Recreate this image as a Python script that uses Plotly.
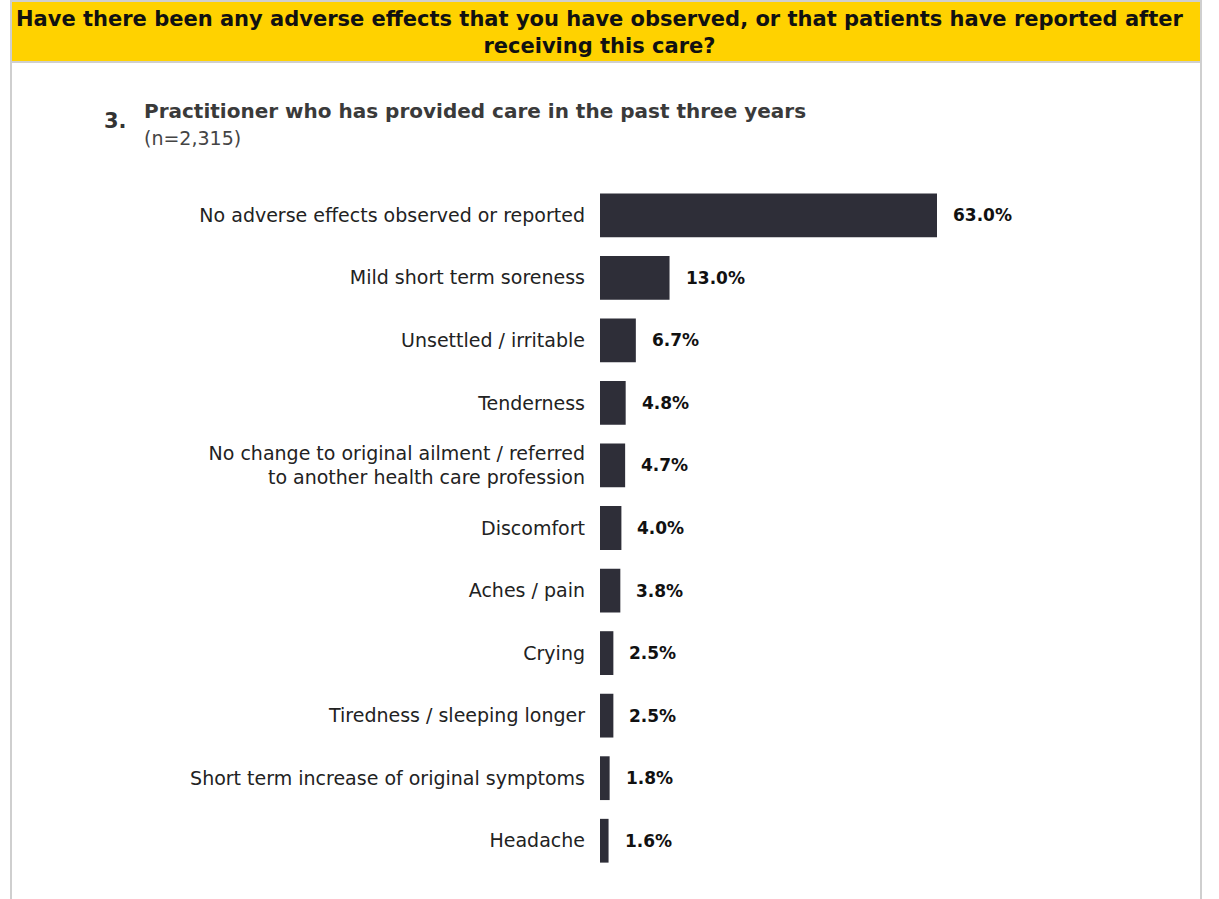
import plotly.graph_objects as go

# survey answers, top to bottom
categories = [
    "No adverse effects observed or reported",
    "Mild short term soreness",
    "Unsettled / irritable",
    "Tenderness",
    "No change to original ailment / referred<br>to another health care profession",
    "Discomfort",
    "Aches / pain",
    "Crying",
    "Tiredness / sleeping longer",
    "Short term increase of original symptoms",
    "Headache",
]
shares = [63.0, 13.0, 6.7, 4.8, 4.7, 4.0, 3.8, 2.5, 2.5, 1.8, 1.6]

question = "Have there been any adverse effects that you have observed, or that patients have reported after<br>receiving this care?"
panel_no = "3."
panel_title = "Practitioner who has provided care in the past three years"
panel_n = "(n=2,315)"

W, H = 1219, 899
L, R, T, B = 600, 19, 184, 27   # plot area margins in px
pw, ph = W - L - R, H - T - B

def px(x):
    return (x - L) / pw

def py(y):
    return (H - B - y) / ph

FONT = "DejaVu Sans"
BAR = "#2E2E38"

fig = go.Figure()
fig.add_trace(go.Bar(
    x=shares, y=categories, orientation="h",
    marker=dict(color=BAR, line=dict(width=0)),
    hoverinfo="x+y",
))

# value labels
for c, v in zip(categories, shares):
    fig.add_annotation(x=v, y=c, text="<b>%.1f%%</b>" % v, showarrow=False,
                       xanchor="left", xshift=14,
                       font=dict(family=FONT, size=17, color="#111111"))

# yellow banner and frame
shapes = [
    dict(type="rect", xref="paper", yref="paper", x0=px(11), x1=px(1201), y0=py(0), y1=py(62),
         fillcolor="#FFD200", line=dict(width=0), layer="below"),
    dict(type="line", xref="paper", yref="paper", x0=px(11), x1=px(1201), y0=py(62), y1=py(62),
         line=dict(color="#CFCFCF", width=2)),
    dict(type="line", xref="paper", yref="paper", x0=px(11), x1=px(1201), y0=py(1), y1=py(1),
         line=dict(color="#CFCFCF", width=2)),
    dict(type="line", xref="paper", yref="paper", x0=px(11), x1=px(11), y0=py(0), y1=py(899),
         line=dict(color="#CFCFCF", width=2)),
    dict(type="line", xref="paper", yref="paper", x0=px(1201), x1=px(1201), y0=py(0), y1=py(899),
         line=dict(color="#CFCFCF", width=2)),
]

annotations = [
    dict(text="<b>" + question + "</b>", x=px(600), y=py(33), xref="paper", yref="paper",
         showarrow=False, xanchor="center", yanchor="middle", align="center",
         font=dict(family=FONT, size=21, color="#111111")),
    dict(text="<b>" + panel_no + "</b>", x=px(102), y=py(121), xref="paper", yref="paper",
         showarrow=False, xanchor="left", yanchor="middle",
         font=dict(family=FONT, size=21, color="#333333")),
    dict(text="<b>" + panel_title + "</b>", x=px(142), y=py(111), xref="paper", yref="paper",
         showarrow=False, xanchor="left", yanchor="middle",
         font=dict(family=FONT, size=20, color="#3A3A3A")),
    dict(text=panel_n, x=px(142), y=py(138), xref="paper", yref="paper",
         showarrow=False, xanchor="left", yanchor="middle",
         font=dict(family=FONT, size=19, color="#444444")),
]
for a in annotations:
    fig.add_annotation(**a)

fig.update_layout(
    width=W, height=H,
    margin=dict(l=L, r=R, t=T, b=B),
    paper_bgcolor="white", plot_bgcolor="white",
    showlegend=False, bargap=0.3,
    shapes=shapes,
    font=dict(family=FONT, size=19, color="#222222"),
)
fig.update_xaxes(range=[0, pw / (337 / 63.0)], visible=False, fixedrange=True)
fig.update_yaxes(autorange="reversed", showline=False, showgrid=False, zeroline=False,
                 ticks="", ticklabelstandoff=14, fixedrange=True,
                 tickfont=dict(family=FONT, size=19, color="#222222"))

fig.write_html("out.html", config={"displayModeBar": False},
               post_script="document.body.style.margin='0px';")
